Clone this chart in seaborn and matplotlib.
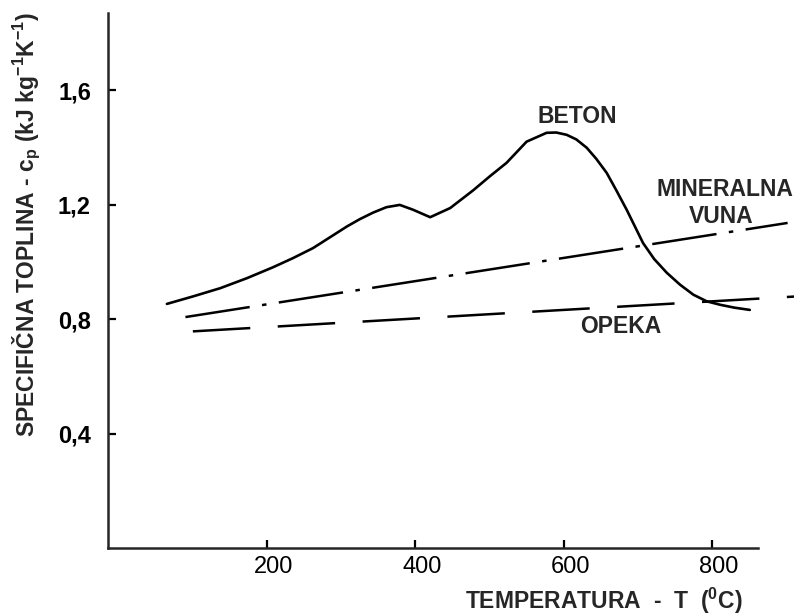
import matplotlib
matplotlib.use('Agg')
import matplotlib.pyplot as plt
import matplotlib.transforms as mtransforms
import seaborn as sns

# Values (T in degC, cp in kJ/kg/K)
beton_t = [65, 100, 137, 173, 208, 235, 262, 308, 325, 343, 361, 379, 397,
           420, 447, 478, 500, 523, 550, 577, 590, 604, 617, 631, 644, 658,
           671, 685, 707, 722, 739, 757, 775, 793, 811, 830, 851]
beton_cp = [0.853, 0.879, 0.908, 0.943, 0.981, 1.013, 1.048, 1.124, 1.149,
            1.172, 1.191, 1.199, 1.182, 1.156, 1.188, 1.250, 1.298, 1.346,
            1.420, 1.451, 1.452, 1.444, 1.428, 1.399, 1.360, 1.311, 1.250,
            1.182, 1.066, 1.010, 0.962, 0.920, 0.885, 0.862, 0.850, 0.840,
            0.832]
vuna_t = [90, 902]
vuna_cp = [0.807, 1.136]
opeka_t = [100, 920]
opeka_cp = [0.757, 0.880]

x_ticks = [200, 400, 600, 800]
y_ticks = [0.4, 0.8, 1.2, 1.6]
y_tick_labels = ['0,4', '0,8', '1,2', '1,6']

sns.set_style('ticks')
plt.rcParams['font.family'] = ['Liberation Sans', 'DejaVu Sans']
plt.rcParams['mathtext.fontset'] = 'custom'
plt.rcParams['mathtext.rm'] = 'Liberation Sans'

fig = plt.figure(figsize=(8.01, 6.15), dpi=100)
ax = fig.add_axes([0.1343, 0.109, 0.8564, 0.870])

sns.lineplot(x=beton_t, y=beton_cp, ax=ax, color='black', lw=1.9, sort=False)
sns.lineplot(x=vuna_t, y=vuna_cp, ax=ax, color='black', lw=1.8,
             linestyle=(0, (26, 5, 1.8, 5)))
sns.lineplot(x=opeka_t, y=opeka_cp, ax=ax, color='black', lw=1.8,
             linestyle=(0, (23, 11)))

ax.set_xlim(-15, 910)
ax.set_ylim(0, 1.87)
ax.spines['top'].set_visible(False)
ax.spines['right'].set_visible(False)
ax.spines['left'].set_linewidth(1.8)
ax.spines['bottom'].set_linewidth(1.8)
ax.spines['bottom'].set_bounds(-15, 862)

ax.set_xticks(x_ticks)
ax.set_xticklabels([str(v) for v in x_ticks])
ax.set_yticks(y_ticks)
ax.set_yticklabels(y_tick_labels, fontweight='bold')
ax.tick_params(axis='both', direction='in', length=6, width=1.6, colors='black')
ax.tick_params(axis='x', labelsize=17, pad=6)
ax.tick_params(axis='y', labelsize=17, pad=12)

shift = mtransforms.ScaledTranslation(0.07, 0, fig.dpi_scale_trans)
for lbl in ax.get_xticklabels():
    lbl.set_transform(lbl.get_transform() + shift)

ax.set_xlabel(r'TEMPERATURA  -  T  ($^{\mathregular{0}}$C)', fontsize=16.5, fontweight='bold')
ax.xaxis.label.set_va('center')
ax.xaxis.set_label_coords(0.724, -0.099)
ax.set_ylabel(r'SPECIFIČNA TOPLINA - c$_{\mathregular{p}}$ (kJ kg$^{\mathregular{-1}}$K$^{\mathregular{-1}}$)',
              fontsize=16.5, fontweight='bold')
ax.yaxis.label.set_va('center')
ax.yaxis.set_label_coords(-0.118, 0.604)

ax.text(619, 1.507, 'BETON', fontsize=16.5, fontweight='bold', ha='center', va='center')
ax.text(817, 1.252, 'MINERALNA', fontsize=16.5, fontweight='bold', ha='center', va='center')
ax.text(813, 1.157, 'VUNA', fontsize=16.5, fontweight='bold', ha='center', va='center')
ax.text(677, 0.773, 'OPEKA', fontsize=16.5, fontweight='bold', ha='center', va='center')

plt.savefig('out.png', dpi=100)
